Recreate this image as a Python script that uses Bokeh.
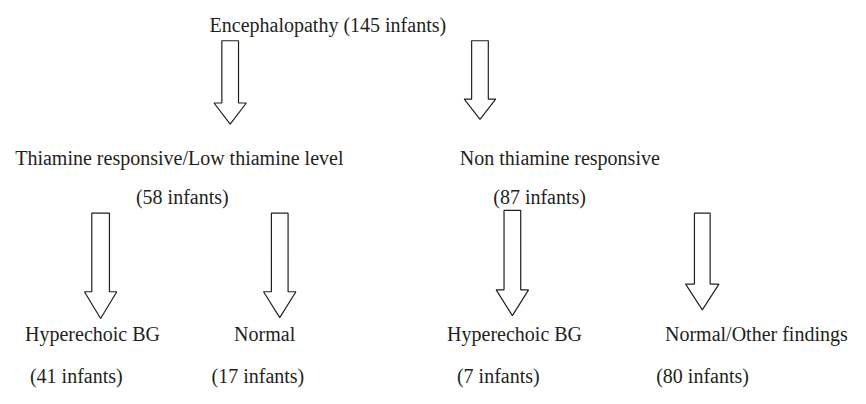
from bokeh.plotting import figure
from bokeh.models import Range1d, ColumnDataSource
from bokeh.embed import file_html
from bokeh.resources import INLINE
from bokeh.core.properties import value

# ---- data ----
node_labels = ["Encephalopathy", "Thiamine responsive/Low thiamine level",
               "Non thiamine responsive", "Hyperechoic BG", "Normal",
               "Hyperechoic BG", "Normal/Other findings"]
node_infants = [145, 58, 87, 41, 17, 7, 80]

# ---- layout (reference pixel coordinates) ----
label_x = [213, 15, 468, 25, 238, 455, 677]
label_y = [27, 165, 165, 349, 349, 349, 349]
count_x = [None, 138, 502, 30, 215, 465, 668]
count_y = [None, 206, 206, 393, 393, 393, 393]

arrow_cx = [234, 488.5, 102, 284.5, 521.5, 715]
arrow_top = [43, 43, 223, 223, 220, 223]
arrow_base = [108, 104, 305, 305, 303, 297]
arrow_tip = [130, 125, 333, 332, 330, 324]
shaft_hw = [8.5, 8.5, 9, 8.5, 8.5, 8]
head_hw = [16.5, 16, 16.5, 16.5, 16.5, 17]

FONT = value("Times New Roman")
TXT = "#231f20"

p = figure(width=850, height=388, output_backend="svg", toolbar_location=None,
           x_range=Range1d(0, 866), y_range=Range1d(406, 1), min_border=0)
p.axis.visible = False
p.grid.visible = False
p.outline_line_color = None
p.background_fill_color = "white"

# arrows
xs, ys = [], []
for cx, t, b, tip, sw, hw in zip(arrow_cx, arrow_top, arrow_base, arrow_tip, shaft_hw, head_hw):
    xs.append([cx - sw, cx + sw, cx + sw, cx + hw, cx, cx - hw, cx - sw])
    ys.append([t, t, b, b, tip, b, b])
p.patches(xs, ys, fill_color="white", line_color="#231f20", line_width=1.2)

# labels
texts, tx, ty = [], [], []
for i, (lab, n) in enumerate(zip(node_labels, node_infants)):
    if count_x[i] is None:
        texts.append(f"{lab} ({n} infants)")
        tx.append(label_x[i]); ty.append(label_y[i])
    else:
        texts.append(lab); tx.append(label_x[i]); ty.append(label_y[i])
        texts.append(f"({n} infants)"); tx.append(count_x[i]); ty.append(count_y[i])

src = ColumnDataSource(dict(x=tx, y=ty, text=texts))
p.text(x="x", y="y", text="text", source=src, text_font=FONT,
       text_font_size="20px", text_align="left", text_baseline="middle",
       text_color=TXT)

open("out.html", "w").write(file_html(p, INLINE))
